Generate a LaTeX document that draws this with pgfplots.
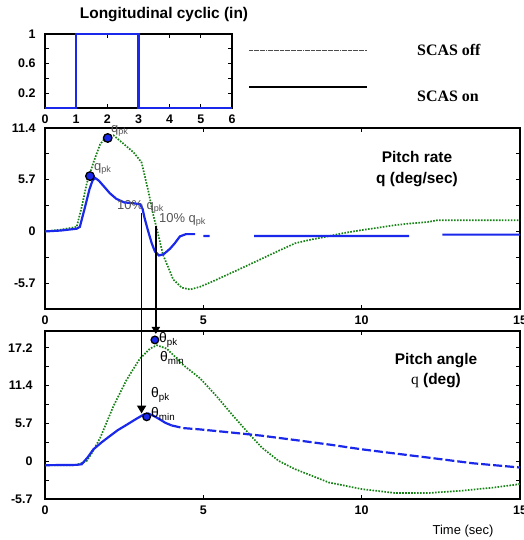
\documentclass[border=0pt]{standalone}
\usepackage{fontspec}
\setmainfont{Liberation Sans}
\newfontfamily\timesfont{Liberation Serif}
\usepackage{pgfplots}
\pgfplotsset{compat=1.18}
\usetikzlibrary{arrows.meta}
\definecolor{onblue}{RGB}{25,40,235}
\definecolor{offgreen}{RGB}{20,130,20}
\definecolor{lblgray}{RGB}{85,85,85}

\pgfplotsset{
  panel/.style={
    scale only axis,
    axis line style={line width=2.4pt},
    tick style={black, line width=0.9pt},
    major tick length=4bp,
    minor tick length=4bp,
    tick align=inside,
    ticklabel style={font=\bfseries\fontsize{12.5}{14}\selectfont},
    yticklabel style={xshift=-6bp},
    xticklabel style={yshift=-3bp},
    unbounded coords=jump,
  },
  onplot/.style={onblue, line width=2.2pt},
  offplot/.style={offgreen, line width=1.7pt, dash pattern=on 1.6pt off 1.4pt},
  pk/.style={only marks, mark=*, mark size=4.3bp, mark options={draw=black, fill=onblue, line width=1.3pt}},
}

\begin{document}
\begin{tikzpicture}
\useasboundingbox (0,0) rectangle (524bp,-540bp);

% input: longitudinal cyclic
\begin{axis}[panel, name=inp,
  at={(45bp,-34bp)}, anchor=north west,
  width=187bp, height=74bp,
  xmin=0, xmax=6, ymin=0, ymax=1, clip=false,
  xtick={0,1,2,3,4,5,6}, xticklabels={0,1,2,3,4,5,6},
  ytick={0.2,0.6,1}, yticklabels={0.2,0.6,1},
  minor ytick={0.4,0.8},
]
\addplot[onplot, line width=2.5pt] coordinates {(0,0) (1,0) (1,1) (3,1) (3,0) (6,0)};
\end{axis}

% pitch rate
\begin{axis}[panel, name=rate,
  at={(45bp,-128bp)}, anchor=north west,
  width=475bp, height=181bp,
  xmin=0, xmax=15, ymin=-8.55, ymax=11.4,
  xtick={0,5,10,15}, xticklabels={0,5,10,15},
  ytick={-5.7,0,5.7,11.4}, yticklabels={-5.7,0,5.7,11.4},
  minor ytick={-8.55,-2.85,2.85,8.55},
]
\addplot[offplot] coordinates {
 (0,0.0) (0.5,0.2) (1.0,0.5) (1.16,2.7) (1.32,5.3) (1.53,7.6) (1.74,9.6) (1.9,10.3)
 (2.16,10.6) (2.5,9.6) (2.8,8.7) (3.05,7.6) (3.26,4.5) (3.42,1.8) (3.53,0.3)
 (3.73,-2.6) (4.05,-5.3) (4.32,-6.2) (4.58,-6.4) (4.9,-6.1) (5.3,-5.5) (5.74,-4.8)
 (6.3,-3.9) (6.85,-3.0) (7.4,-2.1) (7.9,-1.3) (8.4,-0.9) (8.85,-0.6) (9.4,-0.2)
 (10.0,0.15) (10.5,0.4) (11.06,0.7) (11.6,0.9) (12.1,1.05) (12.4,1.24) (13,1.24) (15,1.24)
};
\addplot[onplot] coordinates {
 (0,0.0) (0.5,0.1) (1.0,0.3) (1.1,0.5) (1.25,2.5) (1.4,4.6) (1.5,5.6) (1.58,5.9)
 (1.7,5.6) (1.85,5.0) (2.05,4.2) (2.25,3.6) (2.5,3.2) (2.8,3.1) (3.0,3.0) (3.08,2.5)
 (3.15,1.4) (3.26,0.0) (3.37,-1.3) (3.47,-2.2) (3.6,-2.65) (3.75,-2.5) (3.95,-1.9)
 (4.1,-1.3) (4.26,-0.55) (4.45,-0.3) (4.74,-0.3) (4.85,nan)
 (5.0,-0.5) (5.2,-0.5) (5.5,nan)
 (6.6,-0.5) (11.5,-0.5) (12,nan)
 (12.55,-0.35) (15,-0.35)
};
\addplot[pk] coordinates {(1.42,6.1) (1.98,10.3)};
\coordinate (a1s) at (axis cs:3.05,2.0);
\coordinate (a2s) at (axis cs:3.5,0.55);
\end{axis}

% pitch angle
\begin{axis}[panel, name=ang,
  at={(45bp,-331bp)}, anchor=north west,
  width=475bp, height=168bp,
  xmin=0, xmax=15, ymin=-5.7, ymax=19.65,
  xtick={0,5,10,15}, xticklabels={0,5,10,15},
  ytick={-5.7,0,5.7,11.4,17.1}, yticklabels={-5.7,0,5.7,11.4,17.2},
  minor ytick={-2.85,2.85,8.55,14.25},
  yticklabel style={xshift=-3bp},
]
\addplot[offplot] coordinates {
 (0,-0.6) (0.9,-0.6) (1.1,-0.4) (1.32,0.05) (1.5,1.4) (1.74,3.5) (1.95,5.9) (2.16,8.3)
 (2.37,10.3) (2.58,12.3) (2.8,14.0) (3.0,15.5) (3.32,17.0) (3.53,17.5) (3.84,17.0)
 (4.1,15.8) (4.37,14.5) (4.9,12.5) (5.42,9.8) (5.95,6.8) (6.47,4.0) (6.85,2.05)
 (7.38,0.05) (7.9,-1.2) (8.96,-3.2) (10.0,-4.2) (11.06,-4.8) (12.1,-4.8) (13.16,-4.45)
 (14.2,-3.95) (15,-3.45)
};
\addplot[onplot] coordinates {
 (0,-0.6) (1.0,-0.55) (1.16,-0.45) (1.35,0.6) (1.53,1.8) (1.8,2.9) (2.05,3.8) (2.3,4.7)
 (2.58,5.5) (2.85,6.3) (3.1,7.0) (3.26,7.2) (3.45,6.8) (3.63,6.3) (3.8,5.8) (4.0,5.4)
};
\addplot[onplot, dash pattern=on 9bp off 3bp] coordinates {
 (4.0,5.4) (4.37,5.0) (4.9,4.8) (5.95,4.3) (6.85,3.85) (7.9,3.2) (9.0,2.5) (10.0,1.8)
 (11.0,1.2) (12.1,0.55) (13.5,-0.3) (15,-0.95)
};
\addplot[pk, mark size=3.8bp] coordinates {(3.47,18.3) (3.21,6.7)};
\coordinate (a1e) at (axis cs:3.05,7.2);
\coordinate (a2e) at (axis cs:3.5,19.2);
\end{axis}

% arrows between panels
\draw[line width=1.8pt, -{Triangle[length=8bp,width=9bp]}] (a1s) -- (a1e);
\draw[line width=1.8pt, -{Triangle[length=7bp,width=8bp]}] (a2s) -- (a2e);

% titles and labels
\node[font=\bfseries\fontsize{15.5}{17}\selectfont] at (164bp,-15bp) {Longitudinal cyclic (in)};
\node[font=\bfseries\fontsize{15.5}{21}\selectfont, align=center] at (417bp,-169bp) {Pitch rate\\q (deg/sec)};
\node[font=\bfseries\fontsize{15.5}{20}\selectfont, align=center] at (436bp,-371bp) {Pitch angle\\{\timesfont\mdseries q} (deg)};
\node[font=\fontsize{13}{15}\selectfont] at (463bp,-531bp) {Time (sec)};

\begin{scope}[every node/.style={inner sep=0pt, anchor=west, text=lblgray, font=\fontsize{13}{15}\selectfont}]
\node at (111bp,-131bp) {q\textsubscript{pk}};
\node at (94bp,-169bp) {q\textsubscript{pk}};
\node at (117bp,-207bp) {10\% q\textsubscript{pk}};
\node at (159bp,-220bp) {10\% q\textsubscript{pk}};
\end{scope}
\begin{scope}[every node/.style={inner sep=0pt, anchor=west, font=\fontsize{14}{16}\selectfont}]
\node at (159bp,-340bp) {θ\textsubscript{pk}};
\node at (160bp,-358bp) {θ\textsubscript{min}};
\node at (151bp,-395bp) {θ\textsubscript{pk}};
\node at (151bp,-414bp) {θ\textsubscript{min}};
\end{scope}

% legend
\draw[line width=0.6pt, black!70, dash pattern=on 4pt off 0.8pt on 0.6pt off 0.8pt] (249bp,-50bp) -- (367bp,-50bp);
\draw[line width=3pt, black] (249bp,-87bp) -- (367bp,-87bp);
\node[anchor=west, inner sep=0pt, font=\timesfont\bfseries\fontsize{16}{18}\selectfont] at (417bp,-50bp) {SCAS off};
\node[anchor=west, inner sep=0pt, font=\timesfont\bfseries\fontsize{16}{18}\selectfont] at (417bp,-96bp) {SCAS on};
\end{tikzpicture}
\end{document}
